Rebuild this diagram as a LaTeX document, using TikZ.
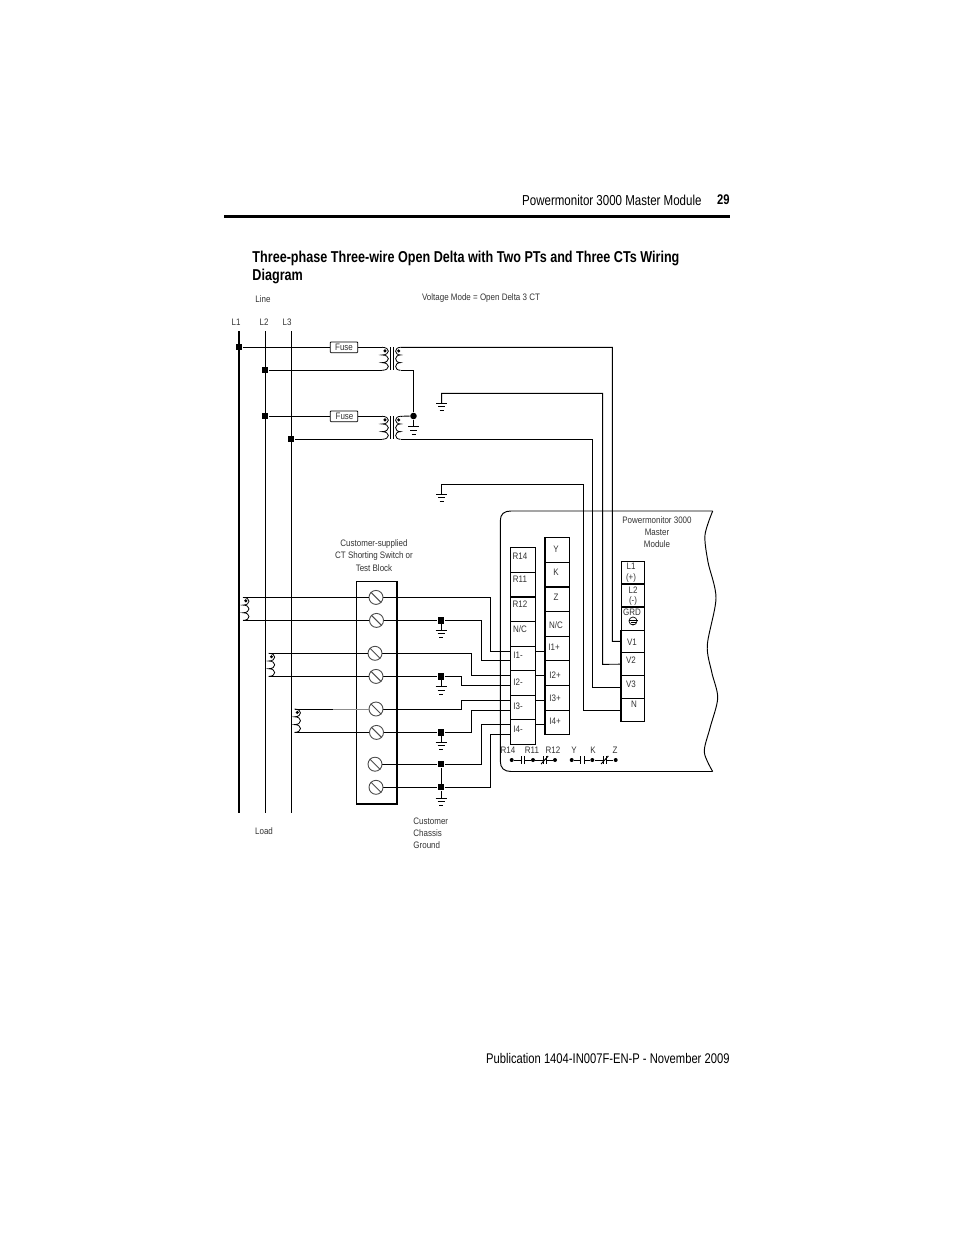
\documentclass[tikz,border=0pt]{standalone}
\usepackage{fontspec}
\usepackage{tikz}
\usetikzlibrary{calc,backgrounds}
\newfontfamily\condfont[FakeStretch=0.8]{Liberation Sans}
\newfontfamily\smallfont[FakeStretch=0.85]{Liberation Sans}
\newcommand{\coil}[3]{\draw[line width=.8pt] (#1) .. controls +(#3,0) and +(#3,0) .. ($(#1)!0.333!(#2)$) .. controls +(#3,0) and +(#3,0) .. ($(#1)!0.667!(#2)$) .. controls +(#3,0) and +(#3,0) .. (#2);}
\tikzset{
  wire/.style={line width=.95pt},
  lbl/.style={font=\smallfont\fontsize{9.4}{10}\selectfont,text=black!80,inner sep=0pt},
  sqdot/.style={rectangle,fill=black,inner sep=0pt,minimum size=6.2pt},
  rdot/.style={circle,fill=black,inner sep=0pt,minimum size=3.4pt},
  fuse/.style={draw,fill=white,rounded corners=.8pt,line width=.8pt,minimum width=27.5pt,minimum height=10.7pt,inner sep=0pt,font=\smallfont\fontsize{9.4}{10}\selectfont,text=black!80},
  screw/.style={circle,draw=black!70,line width=.9pt,minimum size=14pt,inner sep=0pt},
  cell/.style={draw,fill=white,line width=.9pt,inner sep=0pt},
  gnd/.pic={\draw[line width=.9pt] (-5.5,0) -- (5.5,0) (-3.5,3.6) -- (3.5,3.6) (-2,7.4) -- (2,7.4);}
}
\begin{document}
\begin{tikzpicture}[x=1pt,y=-1pt,wire]
\useasboundingbox (0,0) rectangle (954,1235);
\node[font=\condfont\fontsize{14.4}{16}\selectfont,anchor=east,inner sep=0pt] (pagehead) at (702,200) {Powermonitor 3000 Master Module};
\node[font=\condfont\bfseries\fontsize{14}{16}\selectfont,anchor=east,inner sep=0pt] (pagenum) at (730,200) {29};
\coordinate (rulea) at (224,216);
\coordinate (ruleb) at (730,216);
\draw[line width=3pt] (rulea) -- (ruleb);
\node[font=\condfont\bfseries\fontsize{15.75}{18}\selectfont,anchor=north west,align=left,inner sep=0pt] (title) at (252,250.2) {Three-phase Three-wire Open Delta with Two PTs and Three CTs Wiring\\Diagram};
\node[font=\condfont\fontsize{14}{16}\selectfont,anchor=east,inner sep=0pt] (foot) at (730,1058) {Publication 1404-IN007F-EN-P - November 2009};

% bus
\foreach \n/\x/\w in {l1/239/2.2pt,l2/265.3/.95pt,l3/291.3/.95pt}{
  \coordinate (\n t) at (\x,331);
  \coordinate (\n b) at (\x,813);
  \draw[line width=\w] (\n t) -- (\n b);
}
\node[sqdot] (d1) at (239,347.3) {};
\node[sqdot] (d2) at (265.3,370.3) {};
\node[sqdot] (d3) at (265.3,416.3) {};
\node[sqdot] (d4) at (291.3,439.3) {};
\node[fuse] (f1) at (344,347.3) {Fuse\hspace{5pt}};
\node[fuse] (f2) at (344,416.3) {\hspace{1pt}Fuse\hspace{3pt}};

% transformers
\foreach \n/\ya/\yb in {pa/347.3/370.3,pb/416.3/439.3}{
  \coordinate (\n pt) at (382,\ya);
  \coordinate (\n pb) at (382,\yb);
  \coordinate (\n st) at (400.5,\ya);
  \coordinate (\n sb) at (400.5,\yb);
  \coil{\n pt}{\n pb}{8.5}
  \coil{\n st}{\n sb}{-6.5}
  \draw (390.7,\ya) -- (390.7,\yb) (393.3,\ya) -- (393.3,\yb);
  \node[rdot] (\n pd) at (385,\ya+3.6) {};
  \node[rdot] (\n sd) at (398.7,\ya+3.6) {};
}
\draw (d1) -- (f1) -- (papt);
\draw (d2) -- (papb);
\draw (d3) -- (f2) -- (pbpt);
\draw (d4) -- (pbpb);
\node[circle,fill=black,inner sep=0pt,minimum size=6.6pt] (gd) at (413.5,416) {};
\draw (pasb) -| (gd);
\draw (pbst) -- (gd);
\coordinate (g0) at (413.5,426.7);
\draw (gd) -- (g0);
\pic at (g0) {gnd};

% right block
\foreach \n/\yt/\yb in {cl1/561.7/583.7,cl2/583.7/606.7,cgr/606.7/630,v1/630/652.7,v2/652.7/675.7,v3/675.7/698.3,n/698.3/721.7}
  \node[cell,minimum width=23pt,minimum height={(\yb-\yt)*1pt}] (\n) at (632.8,{(\yt+\yb)/2}) {};
\draw[line width=1.6pt] (cl1.south west) -- (cl1.south east) (cl2.south west) -- (cl2.south east) (cgr.south west) -- (cgr.south east);
\draw[line width=1.6pt] (v1.north west) -- (n.south west);
\node[circle,draw,line width=.7pt,inner sep=0pt,minimum size=8pt] (grdsym) at (633,621) {};
\draw[line width=.7pt] (628.5,620.5) -- (637.5,620.5) (630.5,622.5) -- (635.5,622.5) (632,624) -- (634,624);

% wires to right block
\coordinate (b1) at (612.3,641.3);
\coordinate (b2) at (602.7,664.3);
\coordinate (b3) at (592.7,687);
\coordinate (b4) at (583,710);
\coordinate (c2) at (441.7,393.3);
\coordinate (g2) at (441.7,403.3);
\coordinate (c4) at (441.7,484.3);
\coordinate (g4) at (441.7,494.3);
\draw (past) -| (b1) -- (v1.west);
\draw (g2) -- (c2) -| (b2) -- (v2.west);
\draw (pbsb) -| (b3) -- (v3.west);
\draw (g4) -- (c4) -| (b4) -- (n.west);
\pic at (g2) {gnd};
\pic at (g4) {gnd};

% module outline
\draw plot[smooth] coordinates {(712.7,511) (705,535) (708,562) (716,598) (707.3,645) (711.7,672) (717.7,698) (710,728) (704.3,752) (712.7,771.5)};
\coordinate (moda) at (712.7,511);
\coordinate (modb) at (712.7,771.5);
\draw (moda) -- (511,511) .. controls (504,511) and (500.3,514) .. (500.3,521) -- (500.3,761) .. controls (500.3,768) and (504,771.5) .. (511,771.5) -- (modb);

% cells
\foreach \n/\yt/\yb in {r14/547.7/572,r11/572/596.7,r12/596.7/621,nca/621/646,i1m/646/670.7,i2m/670.7/695.3,i3m/695.3/719.3,i4m/719.3/744.3}
  \node[cell,minimum width=24.6pt,minimum height={(\yb-\yt)*1pt}] (\n) at (523,{(\yt+\yb)/2}) {};
\draw[line width=1.5pt] (r11.south west) -- (r11.south east) (nca.south west) -- (nca.south east);
\foreach \n/\yt/\yb in {yc/537.7/562.3,kc/562.3/586.7,zc/586.7/611,ncb/611/636,i1p/636/660.3,i2p/660.3/685.3,i3p/685.3/710,i4p/710/734.3}
  \node[cell,minimum width=24.7pt,minimum height={(\yb-\yt)*1pt}] (\n) at (557.3,{(\yt+\yb)/2}) {};
\draw[line width=1.5pt] (yc.north west) -- (yc.north east) (kc.south west) -- (kc.south east) (i3p.south west) -- (i3p.south east);
\draw[line width=1.5pt] (yc.north west) -- (i4p.south west);

% shorting block
\node[draw,minimum width=40pt,minimum height=222.4pt,inner sep=0pt] (blk) at (376.3,692.5) {};
\draw[line width=1.5pt] (blk.north east) -- (blk.south east) -- (blk.south west);
\foreach \n/\x/\y in {s1/376/597.4,s2/376.5/620.4,s3/375/653.3,s4/376/676.4,s5/376/709,s6/376.5/732.4,s7/375/764.2,s8/376/787.3}{
  \node[screw] (\n) at (\x,\y) {};
  \draw[draw=black!70] (\n.north west) -- (\n.south east);
}

% ct coils
\foreach \n/\x/\ya/\yb in {ca/243/597.4/620.4,cb/268.7/653.3/676.4,cc/294.5/709/732.4}{
  \coordinate (\n t) at (\x,\ya);
  \coordinate (\n b) at (\x,\yb);
  \coil{\n t}{\n b}{8}
  \node[rdot] (\n d) at (\x+2.8,\ya+3.4) {};
}
\coordinate (ccm) at (333,709);
\draw (cat) -- (s1.west);
\draw (cab) -- (s2.west);
\draw (cbt) -- (s3.west);
\draw (cbb) -- (s4.west);
\draw (cct) -- (ccm);
\draw[black!45] (ccm) -- (s5.west);
\draw (ccb) -- (s6.west);

% wires from shorting block, behind the cells
\node[sqdot] (ga) at (441,620.4) {};
\node[sqdot] (gb) at (441,676.4) {};
\node[sqdot] (gc) at (441,732.4) {};
\node[sqdot] (gd2) at (441,764.2) {};
\node[sqdot] (ge) at (441,787.3) {};
\foreach \n/\y in {ga/630,gb/686.7,gc/742,ge/798}{
  \coordinate (\n g) at (441,\y);
  \draw (\n) -- (\n g);
  \pic at (\n g) {gnd};
}
\draw (gd2) -- (ge);
\begin{scope}[on background layer]
\foreach \n/\x/\y in {t1/545/651,t2/511/660.3,t3/545/675,t4/511/685.3,t5/545/700,t6/511/710,t7/545/724.3,t8/511/734.3}
  \coordinate (\n) at (\x,\y);
\draw (s1.east) -- (489.7,597.4) |- (t1);
\draw (s2.east) -- (ga) -- (480.7,620.4) |- (t2);
\draw (s3.east) -- (470.7,653.3) |- (t3);
\draw (s4.east) -- (gb) -- (460.7,676.4) |- (t4);
\draw (s5.east) -- (460.7,709) |- (t5);
\draw (s6.east) -- (gc) -- (470.7,732.4) |- (t6);
\draw (s7.east) -- (gd2) -- (480.7,764.2) |- (t7);
\draw (s8.east) -- (ge) -- (489.7,787.3) |- (t8);
\end{scope}

% contacts
\foreach \n/\x in {ka/511.7,kb/533,kc2/555,kd/571.7,ke/592.3,kf/615.7}
  \node[rdot,minimum size=4pt] (\n) at (\x,760) {};
\foreach \a/\b in {ka/kb,kd/ke}{
  \coordinate (\a l) at ($(\a)!.44!(\b)$);
  \coordinate (\a r) at ($(\a)!.6!(\b)$);
  \draw (\a) -- (\a l) (\b) -- (\a r);
  \draw ($(\a l)+(0,-4)$) -- ($(\a l)+(0,4)$) ($(\a r)+(0,-4)$) -- ($(\a r)+(0,4)$);
}
\foreach \a/\b in {kb/kc2,ke/kf}{
  \coordinate (\a l) at ($(\a)!.46!(\b)$);
  \coordinate (\a r) at ($(\a)!.6!(\b)$);
  \draw (\a) -- (\a l) (\b) -- (\a r);
  \draw ($(\a l)+(0,-4)$) -- ($(\a l)+(0,4)$) ($(\a r)+(0,-4)$) -- ($(\a r)+(0,4)$);
  \draw ($(\a l)+(-2,4)$) -- ($(\a r)+(2,-4)$);
}

% labels
\foreach \x/\y/\t [count=\i] in {263/299/Line,481/298/Voltage Mode = Open Delta 3 CT,236/322/L1,264/322/L2,287/322/L3,
  374/544/Customer-supplied,374/556/CT Shorting Switch or,374/568/Test Block,264/831/Load,
  657/520/Powermonitor 3000,657/532/Master,657/544/Module,
  520/556/R14,520/579/R11,520/604/R12,520/629/{N/C},518/655/I1-,518/682/I2-,518/706/I3-,518/729/I4-,
  556/549/Y,556/572/K,556/597/Z,556/625/{N/C},554/647/I1+,555/675/I2+,555/698/I3+,555/721/I4+,
  631/566/L1,631/578/(+),633/590/L2,633/601/(-),632/612/GRD,632/642/V1,631/660/V2,631/684/V3,634/704/N,
  508/750/R14,532/750/R11,553/750/R12,574/750/Y,593/750/K,615/750/Z}
  \node[lbl] (lbl\i) at (\x,\y) {\t};
\foreach \y/\t [count=\i] in {821/Customer,833/Chassis,845/Ground}
  \node[lbl,anchor=west] (cust\i) at (413,\y) {\t};
\end{tikzpicture}
\end{document}
